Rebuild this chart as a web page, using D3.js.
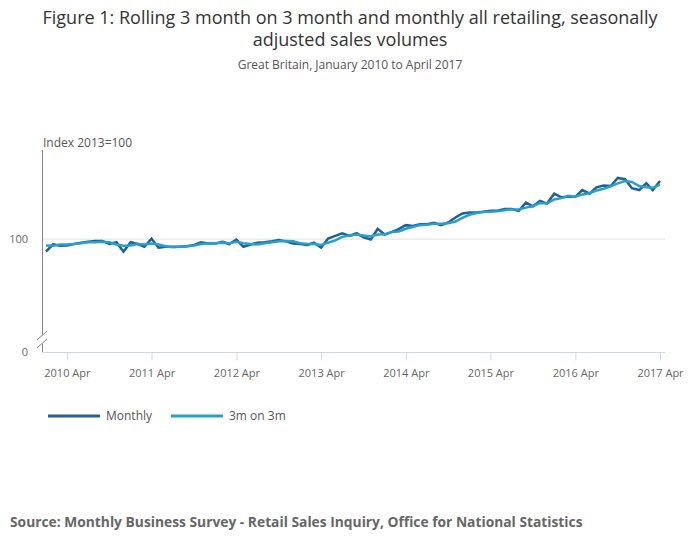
<!DOCTYPE html>
<html><head><meta charset="utf-8">
<script src="https://cdn.jsdelivr.net/npm/d3@7"></script>
<style>body{margin:0;font-family:"Open Sans",sans-serif;background:#fff}</style>
</head><body><div id="chart"></div>
<script>
const monthly = [97.2,98.9,98.5,98.6,98.9,99.2,99.4,99.6,99.6,98.9,99.3,97.2,
  99.3,98.9,98.3,100.1,98.1,98.3,98.3,98.3,98.4,98.7,99.3,99.0,
  99.0,99.4,98.9,99.9,98.3,98.8,99.2,99.3,99.5,99.8,99.5,99.0,
  98.9,98.7,99.2,98.1,100.1,100.7,101.3,100.7,101.3,100.4,99.9,102.3,
  101.0,101.6,102.2,103.1,102.9,103.3,103.3,103.6,103.1,103.7,104.8,105.7,
  105.9,105.9,106.1,106.3,106.3,106.7,106.7,106.3,108.1,107.3,108.5,107.9,
  110.1,109.3,109.4,109.4,110.9,110.1,111.5,111.9,111.8,113.6,113.3,111.3,
  110.9,112.4,110.9,112.9];
const rolling = [98.6,98.5,98.8,98.8,98.9,99.1,99.3,99.3,99.4,99.3,98.8,98.5,
  98.6,98.9,98.8,99.0,98.8,98.4,98.2,98.3,98.4,98.6,98.9,99.1,
  99.1,99.2,99.1,99.4,99.1,98.9,98.8,99.1,99.3,99.5,99.6,99.5,
  99.1,98.9,98.9,98.7,99.2,99.7,100.5,100.8,101.0,100.8,100.6,101.0,
  101.1,101.6,101.7,102.3,102.7,103.1,103.2,103.4,103.4,103.5,103.9,104.7,
  105.4,105.8,106.0,106.1,106.2,106.4,106.6,106.6,107.0,107.3,108.0,107.9,
  108.8,109.1,109.6,109.4,109.9,110.2,110.8,111.2,111.7,112.4,112.9,112.7,
  111.8,111.5,111.4,112.1];
const dates = monthly.map((d, i) => new Date(2010, i, 1));

const width = 700, height = 549;
const svg = d3.select('#chart').append('svg')
  .attr('width', width).attr('height', height)
  .attr('font-family', '"Open Sans", sans-serif');

svg.append('text').attr('x', 350).attr('y', 24).attr('text-anchor', 'middle')
  .attr('font-size', 18).attr('fill', '#333')
  .text('Figure 1: Rolling 3 month on 3 month and monthly all retailing, seasonally');
svg.append('text').attr('x', 350).attr('y', 46).attr('text-anchor', 'middle')
  .attr('font-size', 18).attr('fill', '#333').text('adjusted sales volumes');
svg.append('text').attr('x', 350).attr('y', 69).attr('text-anchor', 'middle')
  .attr('font-size', 12).attr('fill', '#555').text('Great Britain, January 2010 to April 2017');

const x = d3.scaleTime()
  .domain([new Date(2010, 0, 1), new Date(2017, 3, 1)])
  .range([46, 660]);
// broken axis: 0 at bottom, then jump to 77.8
const y = d3.scaleLinear().domain([0, 77.8, 119.8]).range([352, 339, 150]);

// gridline
svg.append('line').attr('x1', 42).attr('x2', 665)
  .attr('y1', y(100)).attr('y2', y(100)).attr('stroke', '#e0e0e0');

svg.append('text').attr('x', 43).attr('y', 147).attr('font-size', 12).attr('fill', '#555')
  .text('Index 2013=100');
[0, 100].forEach(v => {
  svg.append('text').attr('x', 28).attr('y', y(v) + 4).attr('text-anchor', 'end')
    .attr('font-size', 11).attr('fill', '#666').text(v);
});

// y axis line with break
svg.append('line').attr('x1', 42.5).attr('x2', 42.5).attr('y1', 150).attr('y2', 335).attr('stroke', '#888');
svg.append('line').attr('x1', 42.5).attr('x2', 42.5).attr('y1', 344).attr('y2', 352).attr('stroke', '#888');
svg.append('line').attr('x1', 37).attr('x2', 47).attr('y1', 340).attr('y2', 331).attr('stroke', '#888');
svg.append('line').attr('x1', 37).attr('x2', 47).attr('y1', 348).attr('y2', 339).attr('stroke', '#888');

// x axis
const xAxis = svg.append('g').attr('transform', 'translate(0,352.5)')
  .call(d3.axisBottom(x)
    .tickValues(d3.range(2010, 2018).map(yr => new Date(yr, 3, 1)))
    .tickFormat(d => d.getFullYear() + ' Apr').tickSize(8).tickSizeOuter(0));
xAxis.select('.domain').attr('stroke', '#ccd6eb').attr('d', 'M42,0H665');
xAxis.selectAll('.tick line').attr('stroke', '#ccd6eb');
xAxis.selectAll('.tick text').attr('fill', '#666').attr('font-size', 11)
  .attr('font-family', '"Open Sans", sans-serif').attr('dy', '1.2em');

const line = d3.line().x((d, i) => x(dates[i])).y(d => y(d));
svg.append('path').datum(monthly).attr('d', line)
  .attr('fill', 'none').attr('stroke', '#206095').attr('stroke-width', 2.5);
svg.append('path').datum(rolling).attr('d', line)
  .attr('fill', 'none').attr('stroke', '#27a0cc').attr('stroke-width', 2.5);

// legend
const legend = [['Monthly', '#206095', 48], ['3m on 3m', '#27a0cc', 171]];
legend.forEach(([name, col, lx]) => {
  svg.append('line').attr('x1', lx).attr('x2', lx + 52).attr('y1', 416).attr('y2', 416)
    .attr('stroke', col).attr('stroke-width', 3);
  svg.append('text').attr('x', lx + 58).attr('y', 420).attr('font-size', 12)
    .attr('fill', '#555').text(name);
});

svg.append('text').attr('x', 10).attr('y', 527).attr('font-size', 13.8)
  .attr('font-weight', 'bold').attr('fill', '#666')
  .text('Source: Monthly Business Survey - Retail Sales Inquiry, Office for National Statistics');
</script></body></html>
